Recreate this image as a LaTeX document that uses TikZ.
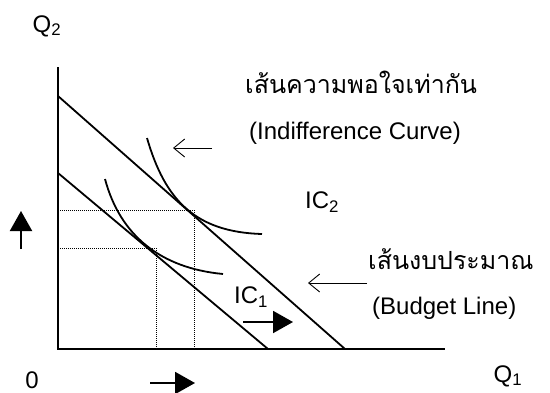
\documentclass[tikz,border=0pt]{standalone}
\usepackage{fontspec}
\setmainfont{Liberation Sans}
\newfontfamily\thaifont[Script=Thai]{Loma}
\usetikzlibrary{arrows.meta,positioning}
\tikzset{
  axis/.style   ={line width=2.2pt, draw=black},
  bline/.style  ={line width=1.8pt, draw=black},
  icurve/.style ={line width=1.8pt, draw=black},
  guide/.style  ={densely dotted, line width=1pt, draw=black},
  hint/.style   ={-{Straight Barb[length=11pt,width=18pt,line width=0.9pt]}, line width=0.9pt},
  move/.style   ={-{Triangle[length=20pt,width=22pt]}, line width=2pt},
  lbl/.style    ={font=\fontsize{24}{28}\selectfont, inner sep=0pt},
  thlbl/.style  ={font=\fontsize{25}{30}\selectfont\thaifont, inner sep=0pt}
}

\begin{document}
\begin{tikzpicture}[x=1pt,y=-1pt]
  \useasboundingbox (0,0) rectangle (550,392);
  % --- axes
  \coordinate (o)    at (58,349);
  \coordinate (ytop) at (58,67);
  \coordinate (xend) at (445,349);
  \draw[axis] (ytop) -- (o) -- (xend);
  \node[lbl]                 (q2)   at (47,26)  {Q\textsubscript{2}};
  \node[lbl]                 (zero) at (32,380) {0};
  \node[lbl]                 (q1)   at (508,376) {Q\textsubscript{1}};
  % --- budget lines
  \coordinate (bl2a) at (58,96);   \coordinate (bl2b) at (345,349);
  \coordinate (bl1a) at (58,173);  \coordinate (bl1b) at (268,349);
  \draw[bline] (bl2a) -- (bl2b);
  \draw[bline] (bl1a) -- (bl1b);
  % --- indifference curves
  \coordinate (ic2a) at (147,138); \coordinate (ic2b) at (262,234);
  \coordinate (ic1a) at (105,179); \coordinate (ic1b) at (223,274);
  \draw[icurve] (ic2a) .. controls (165,200) and (195,232) .. (ic2b);
  \draw[icurve] (ic1a) .. controls (120,235) and (160,268) .. (ic1b);
  % --- optimum points
  \coordinate (e2) at (194,210);  \coordinate (e1) at (156,248);
  \draw[guide] (58,210) -- (e2) -- (194,349);
  \draw[guide] (58,248) -- (e1) -- (156,349);
  \node[lbl]                 (ic2l) at (322,202) {IC\textsubscript{2}};
  \node[lbl]                 (ic1l) at (251,297) {IC\textsubscript{1}};
  % --- captions
  \node[thlbl,anchor=base west]   (icth) at (245,93)  {เส้นความพอใจเท่ากัน};
  \node[lbl,anchor=base west]     (icen) at (249,139) {(Indifference Curve)};
  \node[thlbl,anchor=base west]   (blth) at (368,269) {เส้นงบประมาณ};
  \node[lbl,anchor=base west]     (blen) at (372,314) {(Budget Line)};
  \coordinate (h1s) at (212,148); \coordinate (h1e) at (173,148);
  \coordinate (h2s) at (367,283); \coordinate (h2e) at (308,283);
  \draw[hint] (h1s) -- (h1e);
  \draw[hint] (h2s) -- (h2e);
  % --- shifts
  \coordinate (upa) at (21,249);  \coordinate (upb) at (21,211);
  \coordinate (rta) at (150,383); \coordinate (rtb) at (195,383);
  \coordinate (mda) at (243,322); \coordinate (mdb) at (293,322);
  \draw[move] (upa) -- (upb);
  \draw[move] (rta) -- (rtb);
  \draw[move] (mda) -- (mdb);
\end{tikzpicture}
\end{document}
